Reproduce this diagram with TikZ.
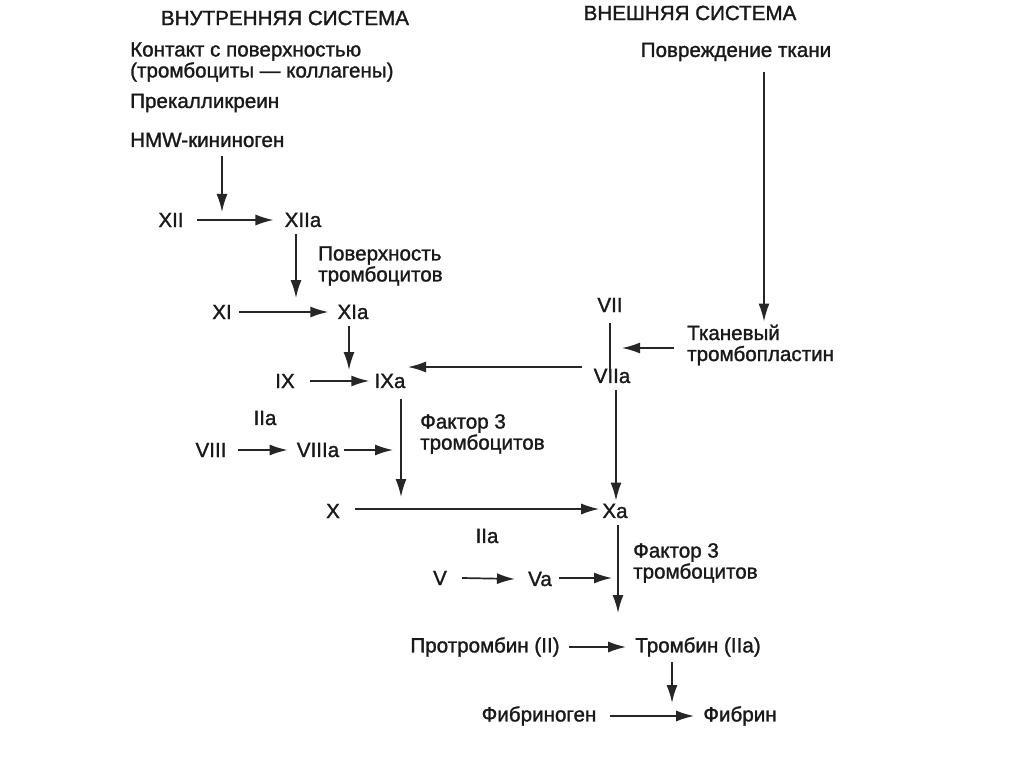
\documentclass[tikz,border=0pt]{standalone}
\usepackage{fontspec}
\setmainfont[UprightFeatures={FakeBold=1.3}]{Liberation Sans}
\usetikzlibrary{arrows.meta}
\begin{document}
\begin{tikzpicture}[x=1pt,y=-1pt,
  lbl/.style={font=\fontsize{20.6}{21}\selectfont, inner sep=3pt, text=black!90},
  lbll/.style={lbl, align=left, anchor=west},
  arr/.style={-{Latex[length=18pt,width=11pt]}, line width=1.7pt, draw=black!85},
  ln/.style={line width=1.7pt, draw=black!85}]
\useasboundingbox[fill=white] (0,0) rectangle (1024,767);
% headers
\node[lbl] (hin) at (285,18) {ВНУТРЕННЯЯ СИСТЕМА};
\node[lbl] (hex) at (690,13) {ВНЕШНЯЯ СИСТЕМА};
% intrinsic start
\node[lbll] (kont) at (127,62) {Контакт с поверхностью\\(тромбоциты — коллагены)};
\node[lbll] (prek) at (127,103) {Прекалликреин};
\node[lbll] (hmw) at (127,140) {HMW-кининоген};
\node[lbl] (povr) at (736,52) {Повреждение ткани};
% factors
\node[lbl] (xii) at (171,220) {XII};
\node[lbl] (xiia) at (303,220) {XIIa};
\node[lbll] (povtr) at (315,266) {Поверхность\\тромбоцитов};
\node[lbl] (xi) at (222,312) {XI};
\node[lbl] (xia) at (353,312) {XIa};
\node[lbl] (ix) at (285,381) {IX};
\node[lbl] (ixa) at (390,381) {IXa};
\node[lbl] (vii) at (610,305) {VII};
\node[lbl] (viia) at (612,376) {VIIa};
\node[lbll] (tkan) at (684,345) {Тканевый\\тромбопластин};
\node[lbl] (iia1) at (265,418) {IIa};
\node[lbl] (viii) at (211,450) {VIII};
\node[lbl] (viiia) at (318,450) {VIIIa};
\node[lbll] (fak1) at (417,434) {Фактор 3\\тромбоцитов};
\node[lbl] (x) at (333,511) {X};
\node[lbl] (xa) at (615,511) {Xa};
\node[lbl] (iia2) at (487,536) {IIa};
\node[lbll] (fak2) at (630,563) {Фактор 3\\тромбоцитов};
\node[lbl] (v) at (440,578) {V};
\node[lbl] (va) at (540,579) {Va};
\node[lbl] (protr) at (485,647) {Протромбин (II)};
\node[lbl] (tromb) at (698,647) {Тромбин (IIa)};
\node[lbl] (fgen) at (539,716) {Фибриноген};
\node[lbl] (fib) at (740,716) {Фибрин};
% endpoints
\coordinate (a1) at (222,212);
\coordinate (a2) at (296,298);
\coordinate (a3) at (349,370);
\coordinate (a4) at (622,348);
\coordinate (a5) at (408,367);
\coordinate (a6) at (393,450);
\coordinate (a7) at (401,497);
\coordinate (a8) at (618,613);
\coordinate (a9) at (612,578);
\coordinate (a10) at (672,703);
% connectors
\draw[arr] (hmw.south -| a1) ++(0,6) -- (a1);
\draw[arr] (xii.east) ++(10,0) -- ([xshift=-8pt]xiia.west);
\draw[arr] (xiia.south -| a2) ++(0,4) -- (a2);
\draw[arr] (xi.east) ++(4,0) -- ([xshift=-6pt]xia.west);
\draw[arr] (xia.south -| a3) ++(0,4) -- (a3);
\draw[arr] (ix.east) ++(12,0) -- ([xshift=-2pt]ixa.west);
\draw[ln] (vii.south) ++(0,8) -- ([yshift=-6pt]viia.north -| vii.south);
\draw[arr] (tkan.west |- a4) ++(-10,0) -- (a4);
\draw[arr] (povr.south -| 764,0) ++(0,8) -- (tkan.north -| 764,0);
\draw[arr] (viia.west |- a5) ++(-8,0) -- (a5);
\draw[arr] (viia.south -| 616,0) ++(0,4) -- (xa.north -| 616,0);
\draw[arr] (viii.east) ++(8,0) -- ([xshift=-6pt]viiia.west);
\draw[arr] (viiia.east |- a6) ++(2,0) -- (a6);
\draw[arr] (ixa.south -| a7) ++(0,8) -- (a7);
\draw[arr] (x.east |- 0,509) ++(12,0) -- (xa.west |- 0,509);
\draw[arr] (xa.south -| a8) ++(0,4) -- (a8);
\draw[arr] (v.east) ++(12,0) -- ([xshift=-10pt]va.west);
\draw[arr] (va.east |- a9) ++(4,0) -- (a9);
\draw[arr] (protr.east) ++(6,0) -- ([xshift=-6pt]tromb.west);
\draw[arr] (tromb.south -| a10) ++(0,2) -- (a10);
\draw[arr] (fgen.east) ++(10,0) -- ([xshift=-6pt]fib.west);
\end{tikzpicture}
\end{document}
